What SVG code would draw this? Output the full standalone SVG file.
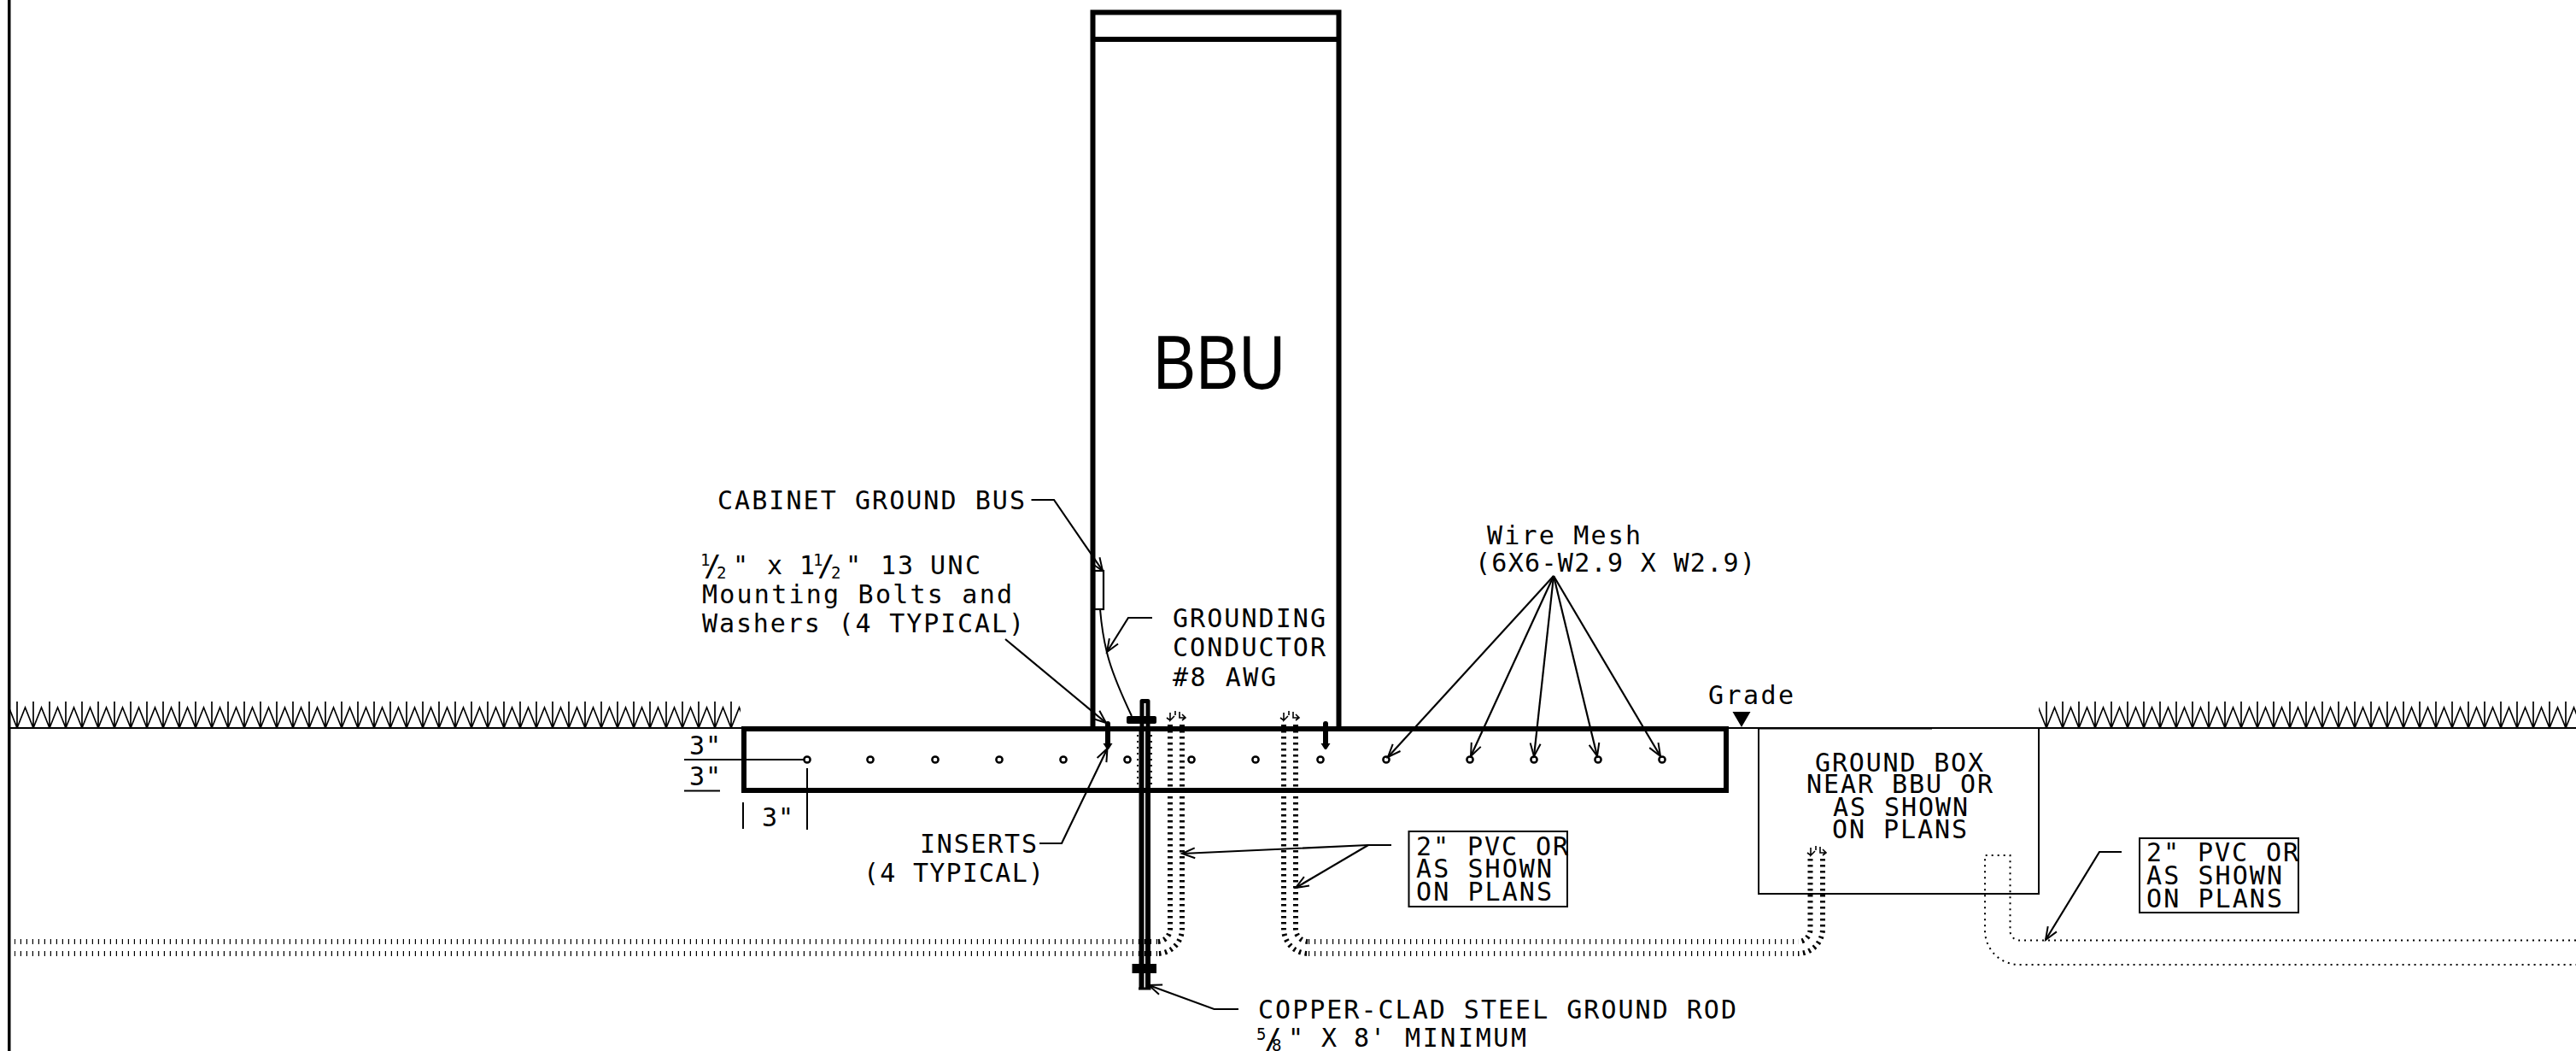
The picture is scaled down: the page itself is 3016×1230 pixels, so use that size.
<svg xmlns="http://www.w3.org/2000/svg" xmlns:xlink="http://www.w3.org/1999/xlink" width="3016" height="1230" viewBox="0 0 3016 1230">
<style>
text{font-family:"DejaVu Sans Mono",monospace;font-size:30px;fill:#000}
.sm{font-size:19px}
.sl{font-size:34px}
.bbu{font-family:"Liberation Sans",sans-serif;font-size:89px}
.ln{fill:none;stroke:#000;stroke-width:2}
.ldr{fill:none;stroke:#000;stroke-width:2.2;marker-end:url(#arr)}
.thick{fill:none;stroke:#000;stroke-width:6}
.cond{fill:none;stroke:#000;stroke-width:6;stroke-dasharray:2.5 4.5}
.condh{fill:none;stroke:#000;stroke-width:6;stroke-dasharray:1.2 5.8}
.dot{fill:none;stroke:#000;stroke-width:2;stroke-dasharray:2 5}
.hole{fill:#fff;stroke:#000;stroke-width:2.5}
</style>
<defs>
<marker id="arr" markerUnits="userSpaceOnUse" markerWidth="24" markerHeight="20" refX="20" refY="10" orient="auto" overflow="visible">
<path d="M5,4 L20,10 L5,16" fill="none" stroke="#000" stroke-width="2"/>
</marker>
<g id="tuft"><path d="M0,1V32M19,1V32M0,32L9.5,8L19,32" fill="none" stroke="#000" stroke-width="1.7"/></g>
<pattern id="grassL" patternUnits="userSpaceOnUse" x="20" y="820" width="19" height="33"><use href="#tuft"/></pattern>
<pattern id="grassR" patternUnits="userSpaceOnUse" x="2396" y="820" width="19" height="33"><use href="#tuft"/></pattern>
<g id="cap" fill="none" stroke="#000" stroke-width="1.6"><path d="M-11,2L-7,5M-7,-4V5L-2,0M-1,-6V-1M4,-5V2H11M7,-2L11,2L7,5"/></g>
<g id="bolt"><path d="M0,-5V18" stroke="#000" stroke-width="6" stroke-linecap="round" fill="none"/><path d="M-5.5,18H5.5L1,25H-1Z" fill="#000"/></g>
</defs>

<g id="border"><rect x="9" y="0" width="3.5" height="1230" fill="#000"/></g>

<g id="grass">
<rect x="12" y="820" width="855" height="33" fill="url(#grassL)"/>
<rect x="2387" y="820" width="629" height="33" fill="url(#grassR)"/>
<path class="ln" d="M12,852H871M2021,852H3016"/>
<path class="ln" d="M2060,852.5H2262"/>
</g>

<g id="connectors">
<path class="cond" d="M1370,848V1087A15,15 0 0 1 1355,1102"/>
<path class="cond" d="M1384,848V1087A29,29 0 0 1 1355,1116"/>
<path class="condh" d="M1355,1102H17M1355,1116H17"/>
<path class="cond" d="M1503,848V1087A29,29 0 0 0 1532,1116"/>
<path class="cond" d="M1517,848V1087A15,15 0 0 0 1532,1102"/>
<path class="condh" d="M1532,1102H2105M1532,1116H2105"/>
<path class="cond" d="M2134,1005V1087A29,29 0 0 1 2105,1116"/>
<path class="cond" d="M2119.5,1005V1087A14.5,14.5 0 0 1 2105,1102"/>
<path class="dot" d="M3016,1100.5H2364A11,11 0 0 1 2353.5,1089V1001H2324V1089A40,40 0 0 0 2364,1129H3016"/>
<use href="#cap" x="1377" y="838"/>
<use href="#cap" x="1510" y="838"/>
<use href="#cap" x="2127" y="996"/>
</g>

<g id="slab"><rect class="thick" x="871" y="853" width="1150" height="72"/></g>

<g id="cabinet">
<path class="thick" d="M1279.5,853V14.5H1567.5V853M1279.5,46H1567.5"/>
<text class="bbu" x="1350" y="455" textLength="155" lengthAdjust="spacingAndGlyphs">BBU</text>
</g>

<g id="ground-bus"><rect x="1281.5" y="668" width="10.5" height="45" fill="#fff" stroke="#000" stroke-width="2.2"/></g>
<g id="conductor"><path class="ln" d="M1288,713C1292,760 1300,785 1325,838"/></g>

<g id="inserts">
<use href="#bolt" x="1297" y="852"/>
<use href="#bolt" x="1552" y="852"/>
</g>

<g id="mesh">
<circle class="hole" cx="945" cy="889" r="3.6"/><circle class="hole" cx="1019" cy="889" r="3.6"/>
<circle class="hole" cx="1095" cy="889" r="3.6"/><circle class="hole" cx="1170" cy="889" r="3.6"/>
<circle class="hole" cx="1245" cy="889" r="3.6"/><circle class="hole" cx="1320" cy="889" r="3.6"/>
<circle class="hole" cx="1395" cy="889" r="3.6"/><circle class="hole" cx="1470" cy="889" r="3.6"/>
<circle class="hole" cx="1546" cy="889" r="3.6"/><circle class="hole" cx="1623" cy="889" r="3.6"/>
<circle class="hole" cx="1721" cy="889" r="3.6"/><circle class="hole" cx="1796" cy="889" r="3.6"/>
<circle class="hole" cx="1871" cy="889" r="3.6"/><circle class="hole" cx="1946" cy="889" r="3.6"/>
</g>

<g id="ground-rod">
<path d="M1337,853V820.5H1344V853" fill="none" stroke="#000" stroke-width="5" stroke-linejoin="round"/>
<path d="M1336.5,853V1157M1344,853V1157" fill="none" stroke="#000" stroke-width="6"/>
<path d="M1333,1157H1347.5" stroke="#000" stroke-width="3"/>
<rect x="1319" y="838" width="35" height="9" rx="2" fill="#000"/>
<rect x="1325.5" y="1128" width="28.5" height="11" fill="#000"/>
<path d="M1332,853V925M1348,853V925" fill="none" stroke="#000" stroke-width="2" stroke-dasharray="2 5"/>
</g>

<g id="grade-marker">
<path d="M2028.5,833H2049.5L2039,851Z" fill="#000"/>
<text x="2000" y="824" textLength="100">Grade</text>
</g>

<g id="ground-box">
<path class="ln" d="M2059,852V1046H2387V852"/>
<text x="2125" y="903" textLength="197">GROUND BOX</text>
<text x="2115" y="928" textLength="218">NEAR BBU OR</text>
<text x="2146" y="955" textLength="158">AS SHOWN</text>
<text x="2145" y="981" textLength="158">ON PLANS</text>
</g>

<g id="pvc-note-1">
<rect class="ln" x="1649.5" y="973" width="185.5" height="88"/>
<text x="1658" y="1001" textLength="178">2" PVC OR</text>
<text x="1658" y="1027" textLength="159">AS SHOWN</text>
<text x="1658" y="1054" textLength="159">ON PLANS</text>
</g>
<g id="pvc-note-2">
<rect class="ln" x="2505" y="981" width="186" height="87"/>
<text x="2513" y="1008" textLength="178">2" PVC OR</text>
<text x="2513" y="1035" textLength="159">AS SHOWN</text>
<text x="2513" y="1062" textLength="159">ON PLANS</text>
</g>

<g id="leaders">
<path class="ldr" d="M1207.5,585H1234L1291,668"/>
<path class="ldr" d="M1177,748L1295,846"/>
<path class="ldr" d="M1349,723H1321L1296,763"/>
<path class="ldr" d="M1217,987H1243L1296.5,876"/>
<path class="ldr" d="M1629,989H1602L1384,999"/>
<path class="ldr" d="M1602,989L1517,1039"/>
<path class="ldr" d="M2484,997H2458L2395,1100"/>
<path class="ldr" d="M1450,1181H1421.5L1345,1153"/>
<path class="ldr" d="M1819,674L1625,886"/>
<path class="ldr" d="M1819,674L1722,885"/>
<path class="ldr" d="M1819,674L1796,885"/>
<path class="ldr" d="M1819,674L1870,885"/>
<path class="ldr" d="M1819,674L1944,885"/>
</g>

<g id="dimensions">
<path class="ln" d="M801,889H941M801,925.5H843M945,899V971M870,939V970"/>
<text x="807" y="883" textLength="37">3"</text>
<text x="807" y="919" textLength="37">3"</text>
<text x="892" y="967" textLength="37">3"</text>
</g>

<g id="labels">
<text x="840" y="596" textLength="360">CABINET GROUND BUS</text>
<text><tspan class="sm" x="820" y="662">1</tspan><tspan class="sl" x="824" y="674">/</tspan><tspan class="sm" x="839" y="677">2</tspan><tspan x="858" y="672">"</tspan><tspan x="898" y="672">x</tspan><tspan x="936" y="672">1</tspan><tspan class="sm" x="952" y="662">1</tspan><tspan class="sl" x="957" y="674">/</tspan><tspan class="sm" x="973" y="677">2</tspan><tspan x="990" y="672">"</tspan><tspan x="1031" y="672" textLength="38">13</tspan><tspan x="1089" y="672" textLength="59">UNC</tspan></text>
<text x="822" y="706" textLength="363">Mounting Bolts and</text>
<text x="822" y="740" textLength="377">Washers (4 TYPICAL)</text>
<text x="1373" y="734" textLength="179">GROUNDING</text>
<text x="1373" y="768" textLength="179">CONDUCTOR</text>
<text x="1373" y="803" textLength="121">#8 AWG</text>
<text x="1077" y="998" textLength="137">INSERTS</text>
<text x="1011" y="1032" textLength="211">(4 TYPICAL)</text>
<text x="1741" y="637" textLength="180">Wire Mesh</text>
<text x="1727" y="669" textLength="328">(6X6-W2.9 X W2.9)</text>
<text x="1473" y="1192" textLength="560">COPPER-CLAD STEEL GROUND ROD</text>
<text><tspan class="sm" x="1471" y="1217">5</tspan><tspan class="sl" x="1480" y="1228">/</tspan><tspan class="sm" x="1489" y="1230">8</tspan><tspan x="1508" y="1225">"</tspan><tspan x="1547" y="1225">X</tspan><tspan x="1585" y="1225">8</tspan><tspan x="1604" y="1225">'</tspan><tspan x="1645" y="1225" textLength="142">MINIMUM</tspan></text>
</g>
</svg>
